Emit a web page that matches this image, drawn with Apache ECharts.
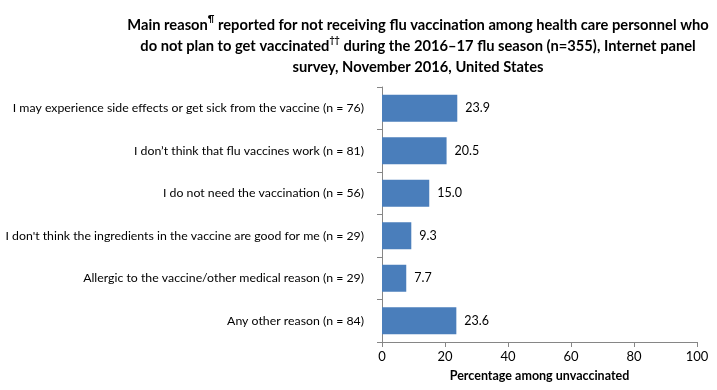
<!DOCTYPE html>
<html><head><meta charset="utf-8">
<script src="https://cdn.jsdelivr.net/npm/echarts@6/dist/echarts.min.js"></script>
<style>html,body{margin:0;padding:0;background:#fff}#c{width:717px;height:390px}</style>
</head><body><div id="c"></div>
<script>
var categories = [
  "I may experience side effects or get sick from the vaccine (n = 76)",
  "I don\u2019t think that flu vaccines work (n = 81)",
  "I do not need the vaccination (n = 56)",
  "I don't think the ingredients in the vaccine are good for me (n = 29)",
  "Allergic to the vaccine/other medical reason (n = 29)",
  "Any other reason (n = 84)"
];
var values = [23.9, 20.5, 15.0, 9.3, 7.7, 23.6];
var xTicks = [0, 20, 40, 60, 80, 100];

var chart = echarts.init(document.getElementById('c'));
var FONT = 'Lato';
chart.setOption({
  animation: false,
  title: {
    text: 'Main reason{sup|\u00b6} reported for not receiving flu vaccination among health care personnel who\ndo not plan to get vaccinated{sup|\u2020\u2020} during the 2016\u201317 flu season (n=355), Internet panel\nsurvey, November 2016, United States',
    left: 413, top: 10, textAlign: 'center',
    textStyle: {
      fontFamily: FONT, fontWeight: 'bold', fontSize: 14.7, color: '#000', lineHeight: 21,
      rich: { sup: { fontFamily: FONT, fontWeight: 'bold', fontSize: 9, color: '#000', verticalAlign: 'top', lineHeight: 21, padding: [0,0,8,0] } }
    }
  },
  grid: { left: 382, right: 20, top: 87, bottom: 48, outerBoundsMode: 'none', containLabel: false },
  xAxis: {
    type: 'value', min: 0, max: 100, interval: 20,
    axisLine: { show: true, lineStyle: { color: '#868686' } },
    axisTick: { show: true, length: 5, lineStyle: { color: '#868686' } },
    splitLine: { show: false },
    axisLabel: { color: '#000', fontFamily: FONT, fontSize: 13, margin: 8,
      formatter: function (v) { return xTicks.indexOf(v) >= 0 ? String(v) : ''; } },
    name: 'Percentage among unvaccinated', nameLocation: 'middle', nameGap: 27,
    nameTextStyle: { fontFamily: FONT, fontWeight: 'bold', fontSize: 12.5, color: '#000' }
  },
  yAxis: {
    type: 'category', data: categories, inverse: true,
    axisLine: { show: true, lineStyle: { color: '#868686' } },
    axisTick: { show: true, length: 5, lineStyle: { color: '#868686' } },
    axisLabel: { color: '#000', fontFamily: FONT, fontSize: 12.3, margin: 18 }
  },
  series: [{
    type: 'bar', data: values, barWidth: 27,
    itemStyle: { color: '#4A7EBB' },
    label: { show: true, position: 'right', distance: 8, color: '#000', fontFamily: FONT, fontSize: 12.5,
      formatter: function (p) { return p.value.toFixed(1); } }
  }]
});
</script></body></html>
